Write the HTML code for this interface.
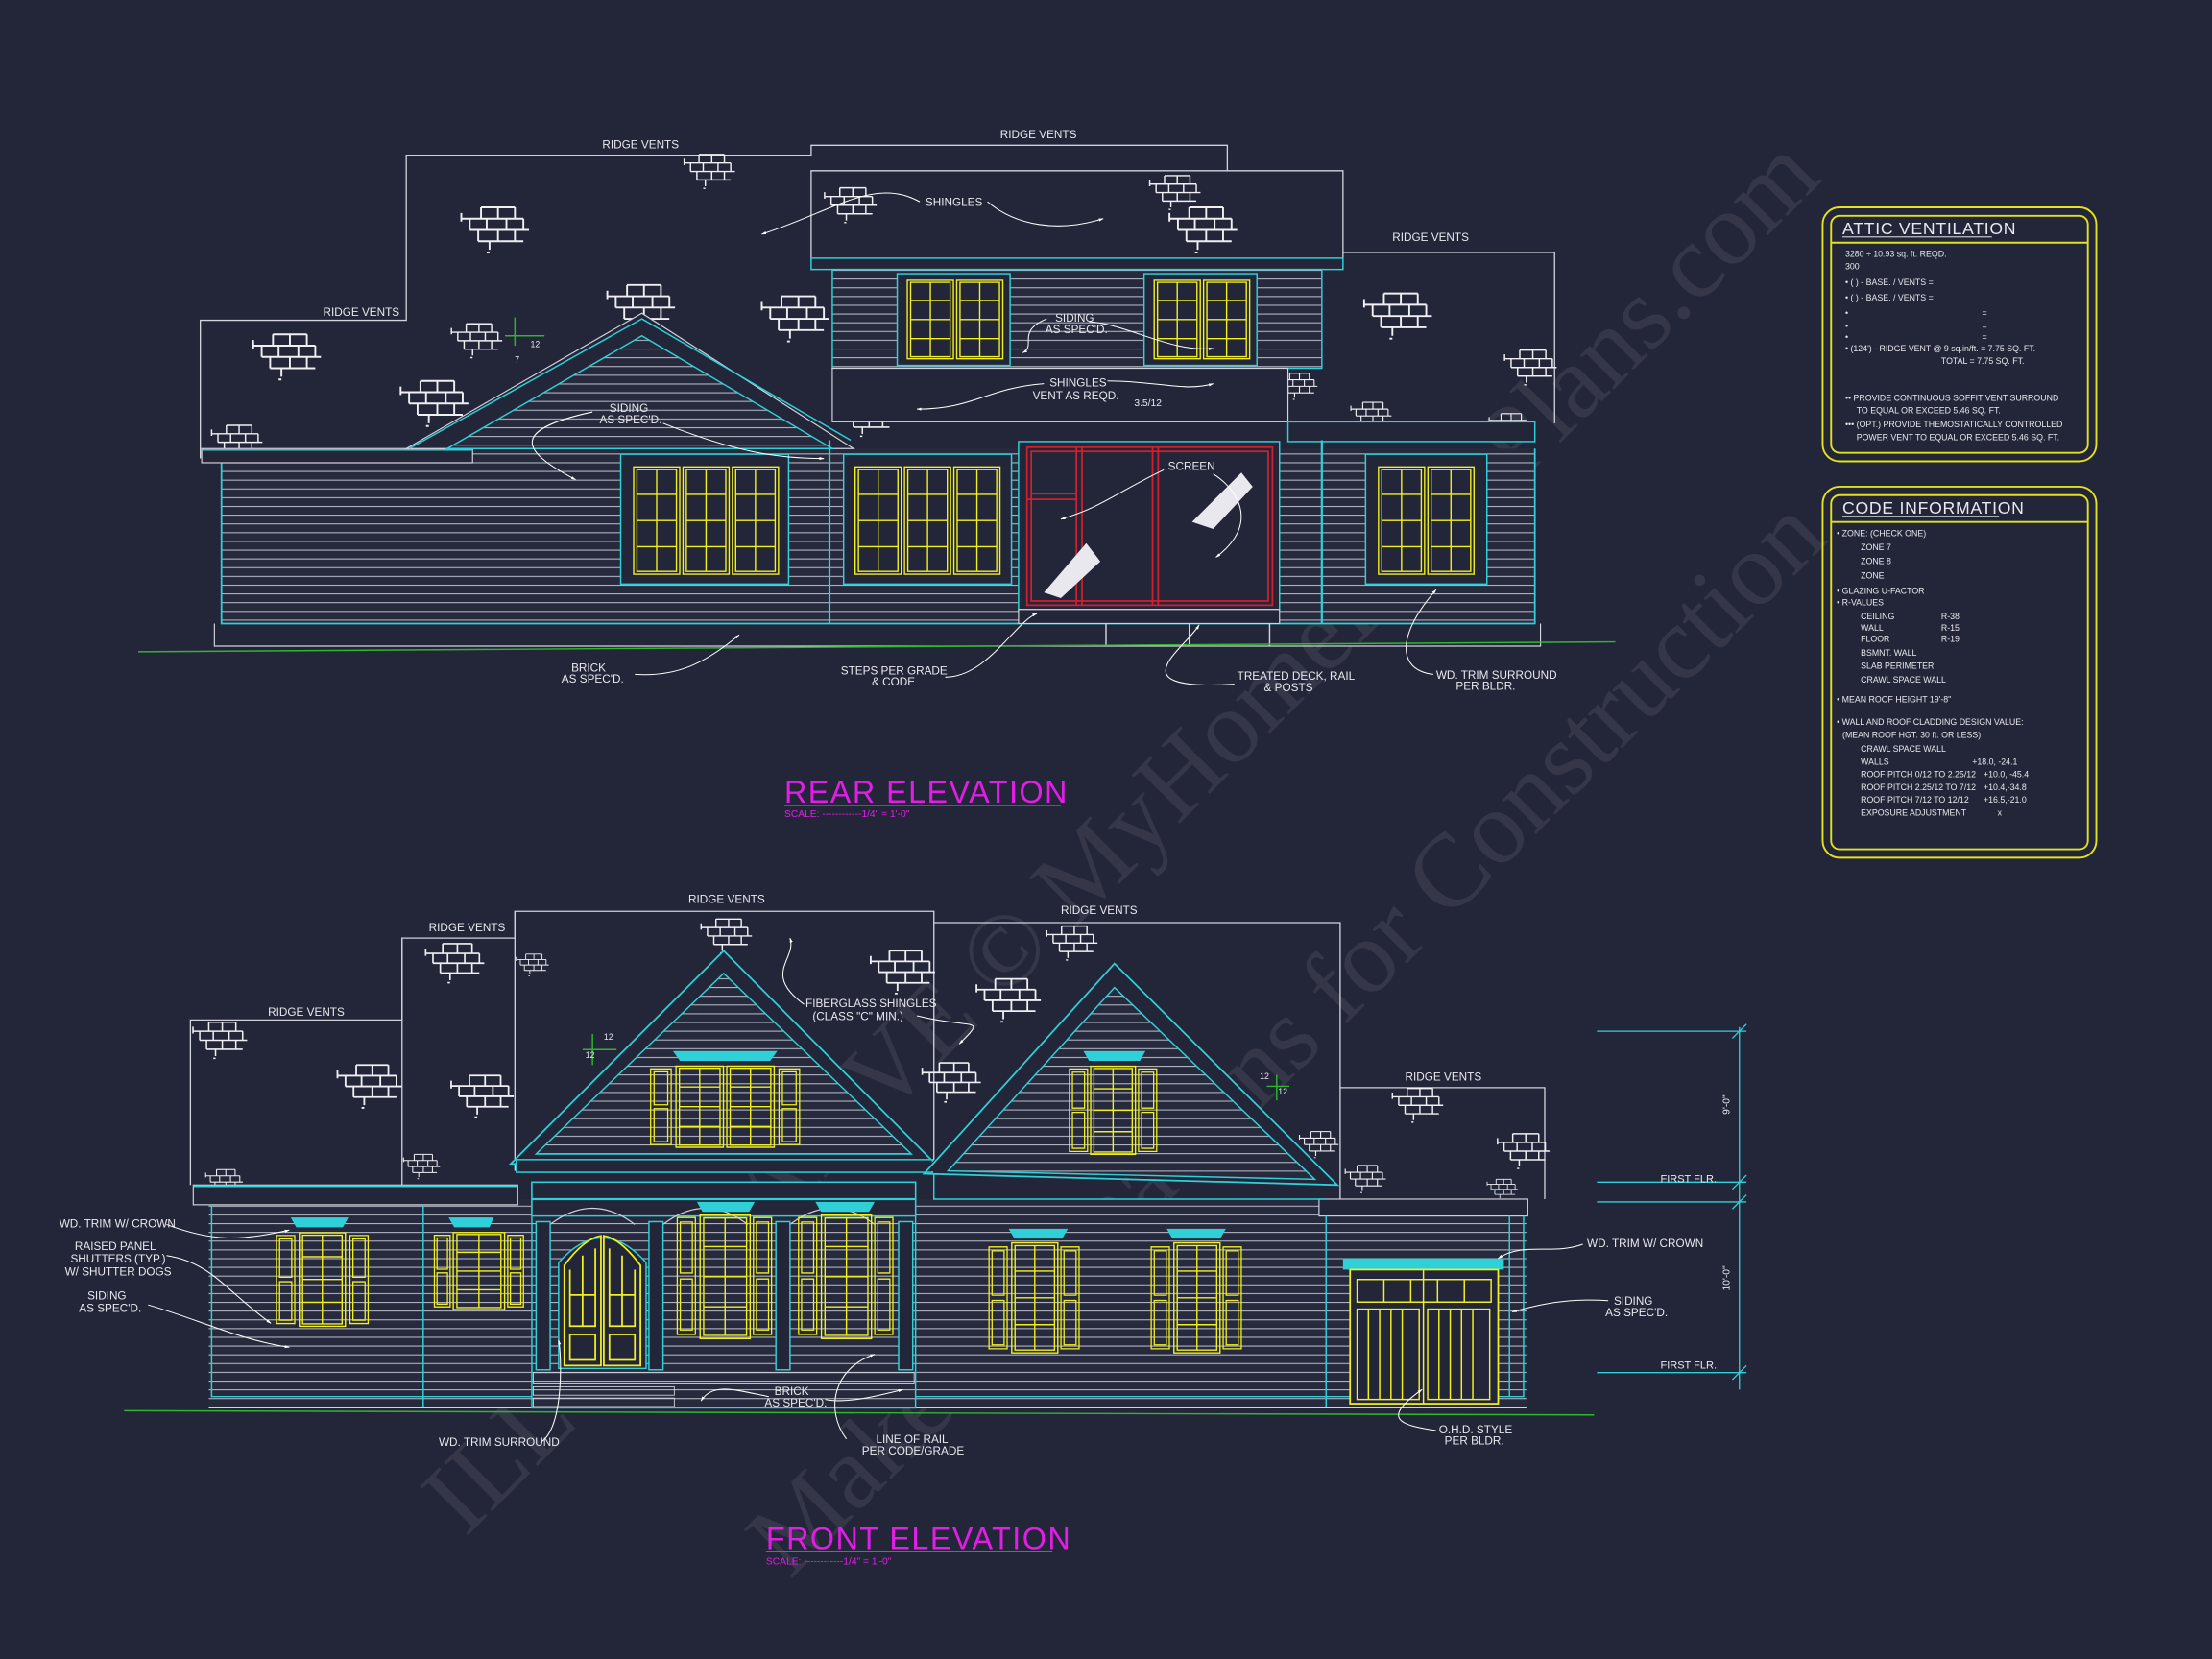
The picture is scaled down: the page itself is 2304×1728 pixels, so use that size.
<!DOCTYPE html>
<html><head><meta charset="utf-8"><style>
html,body{margin:0;padding:0;background:#232639;}
svg{display:block;}
text{font-family:"Liberation Sans",sans-serif;fill:#e8e8ee;}
</style></head><body>
<svg width="2304" height="1728" viewBox="0 0 1568 1176" xmlns="http://www.w3.org/2000/svg">
<defs>
<pattern id="sid" width="10" height="6.2" patternUnits="userSpaceOnUse"><rect width="10" height="6.2" fill="#262a3c"/><line x1="0" y1="5.6" x2="10" y2="5.6" stroke="#b9bcc9" stroke-width="0.7"/></pattern>
<symbol id="brick" viewBox="0 0 52 40" overflow="visible">
<g stroke="#f0f0f4" stroke-width="1.3" fill="none">
<path d="M16 2H40M2 10H46M8 18H50M14 26H46M20 34H22"/>
<path d="M16 2V10M28 2V10M40 2V10M2 6V12M8 10V18M20 10V18M34 10V18M46 10V18M14 18V26M28 18V26M40 18V26M22 26V32"/>
</g></symbol>
<symbol id="sash" viewBox="0 0 30 80" preserveAspectRatio="none">
<g fill="none" stroke="#f2f01e" stroke-width="1.4" vector-effect="non-scaling-stroke">
<rect x="1" y="1" width="28" height="78" vector-effect="non-scaling-stroke"/>
<rect x="3" y="3" width="24" height="74" vector-effect="non-scaling-stroke"/>
<path d="M15 3V77M3 21H27M3 40H27M3 59H27" vector-effect="non-scaling-stroke"/>
</g></symbol>
<symbol id="shut" viewBox="0 0 14 80" preserveAspectRatio="none">
<g fill="none" stroke="#f2f01e" stroke-width="1.3">
<rect x="1" y="1" width="12" height="78" vector-effect="non-scaling-stroke"/>
<rect x="3" y="4" width="8" height="34" vector-effect="non-scaling-stroke"/>
<rect x="3" y="42" width="8" height="34" vector-effect="non-scaling-stroke"/>
</g></symbol>
<marker id="ar" viewBox="0 0 10 10" refX="9" refY="5" markerWidth="5" markerHeight="5" orient="auto"><path d="M0 2L10 5L0 8z" fill="#fff"/></marker>
</defs>
<rect width="1568" height="1176" fill="#232639"/>

<!-- watermark -->
<g opacity="0.08">
<text x="0" y="0" transform="translate(330,1090) rotate(-45)" font-size="74" style="font-family:'Liberation Serif',serif;fill:#fff">ILLUSTRATIVE © MyHomeFloorPlans.com</text>
<text x="0" y="0" transform="translate(560,1120) rotate(-45)" font-size="74" style="font-family:'Liberation Serif',serif;fill:#fff">Make Estimations for Construction</text>
</g>

<!-- ================= REAR ELEVATION ================= -->
<g stroke="#d0d2dc" stroke-width="0.9" fill="none">
<path d="M142 325V227H288V110H575V103H870V121"/>
<path d="M575 185V121H952V185"/>
<path d="M952 179H1102V300"/>
</g>
<text x="427" y="105" font-size="8">RIDGE VENTS</text>
<text x="709" y="98" font-size="8">RIDGE VENTS</text>
<text x="229" y="224" font-size="8">RIDGE VENTS</text>
<text x="987" y="171" font-size="8">RIDGE VENTS</text>
<g>
<use href="#brick" x="478" y="108" width="50" height="30"/>
<use href="#brick" x="325" y="145" width="52" height="40"/>
<use href="#brick" x="583" y="130" width="40" height="34"/>
<use href="#brick" x="538" y="208" width="52" height="40"/>
<use href="#brick" x="827" y="145" width="52" height="40"/>
<use href="#brick" x="808" y="123" width="50" height="30"/>
<use href="#brick" x="427" y="200" width="55" height="40"/>
<use href="#brick" x="176" y="235" width="55" height="40"/>
<use href="#brick" x="313" y="228" width="50" height="30"/>
<use href="#brick" x="282" y="268" width="52" height="40"/>
<use href="#brick" x="965" y="206" width="52" height="40"/>
<use href="#brick" x="1065" y="245" width="40" height="34"/>
<use href="#brick" x="143" y="300" width="50" height="30"/>
<use href="#brick" x="592" y="282" width="45" height="32"/>
<use href="#brick" x="905" y="258" width="30" height="34"/>
<use href="#brick" x="952" y="284" width="40" height="24"/>
<use href="#brick" x="1050" y="292" width="40" height="24"/>
</g>
<!-- upper story -->
<rect x="575" y="183" width="377" height="8" fill="#232639" stroke="#2fd0d8" stroke-width="1"/>
<rect x="590" y="191" width="347" height="70" fill="url(#sid)" stroke="#2fd0d8" stroke-width="1"/>
<rect x="636" y="194" width="80" height="65" fill="#232639" stroke="#2fd0d8"/>
<use href="#sash" x="642" y="198" width="35" height="57"/><use href="#sash" x="677" y="198" width="35" height="57"/>
<rect x="811" y="194" width="80" height="65" fill="#232639" stroke="#2fd0d8"/>
<use href="#sash" x="817" y="198" width="35" height="57"/><use href="#sash" x="852" y="198" width="35" height="57"/>
<rect x="590" y="261" width="323" height="38" fill="#232639" stroke="#d0d2dc" stroke-width="0.8"/>
<!-- lower wall -->
<rect x="157" y="318" width="931" height="124" fill="url(#sid)"/>
<path d="M157 318V442H1088V318" stroke="#2fd0d8" fill="none" stroke-width="1.2"/>
<path d="M152 442V458H1092V442" stroke="#d0d2dc" fill="none" stroke-width="0.8"/>
<rect x="143" y="318" width="192" height="10" fill="#232639" stroke="#d0d2dc" stroke-width="0.8"/>
<line x1="143" y1="319" x2="335" y2="319" stroke="#2fd0d8"/>
<!-- gable -->
<polygon points="455,222 288,318 605,318" fill="#232639" stroke="#d0d2dc" stroke-width="0.8"/>
<polygon points="455,238 317,318 590,318" fill="url(#sid)" stroke="#2fd0d8" stroke-width="1"/>
<path d="M290 318L455 226L603 312" stroke="#2fd0d8" fill="none"/>
<path d="M365 225V245M358 238H386" stroke="#2fb52f"/><text x="376" y="246" font-size="6">12</text><text x="365" y="257" font-size="6">7</text>
<rect x="913" y="299" width="175" height="14" fill="#232639" stroke="#2fd0d8"/>
<line x1="588" y1="312" x2="588" y2="442" stroke="#2fd0d8" stroke-width="1.5"/>
<line x1="937" y1="312" x2="937" y2="442" stroke="#2fd0d8" stroke-width="1.5"/>
<!-- windows -->
<rect x="440" y="322" width="119" height="92" fill="#232639" stroke="#2fd0d8"/>
<use href="#sash" x="448" y="330" width="35" height="78"/><use href="#sash" x="483" y="330" width="35" height="78"/><use href="#sash" x="518" y="330" width="35" height="78"/>
<rect x="598" y="322" width="119" height="92" fill="#232639" stroke="#2fd0d8"/>
<use href="#sash" x="605" y="330" width="35" height="78"/><use href="#sash" x="640" y="330" width="35" height="78"/><use href="#sash" x="675" y="330" width="35" height="78"/>
<rect x="968" y="322" width="86" height="92" fill="#232639" stroke="#2fd0d8"/>
<use href="#sash" x="976" y="330" width="35" height="78"/><use href="#sash" x="1011" y="330" width="35" height="78"/>
<!-- screen porch -->
<rect x="722" y="313" width="185" height="119" fill="#232639" stroke="#2fd0d8"/>
<g stroke="#d02030" fill="none" stroke-width="1.2">
<rect x="728" y="317" width="174" height="112"/><rect x="731" y="320" width="168" height="106"/>
<path d="M763 317V429M767 317V429M817 317V429M821 317V429M728 354H763M731 350H763"/>
</g>
<path d="M845 370L880 335L888 345L860 375Z" fill="#e8e8ee"/>
<path d="M740 420L770 385L780 398L752 424Z" fill="#e8e8ee"/>
<rect x="722" y="432" width="185" height="10" fill="#232639" stroke="#d0d2dc" stroke-width="0.8"/>
<path d="M784 442V458M843 442V458M900 442V458" stroke="#d0d2dc"/>
<line x1="98" y1="462" x2="1145" y2="455" stroke="#2fb52f" stroke-width="1"/>
<!-- labels rear -->
<g font-size="8">
<text x="656" y="146">SHINGLES</text>
<text x="748" y="228">SIDING</text><text x="741" y="236">AS SPEC'D.</text>
<text x="744" y="274">SHINGLES</text><text x="732" y="283">VENT AS REQD.</text><text x="804" y="288" font-size="7">3.5/12</text>
<text x="432" y="292">SIDING</text><text x="425" y="300">AS SPEC'D.</text>
<text x="828" y="333">SCREEN</text>
<text x="405" y="476">BRICK</text><text x="398" y="484">AS SPEC'D.</text>
<text x="596" y="478">STEPS PER GRADE</text><text x="618" y="486">&amp; CODE</text>
<text x="877" y="482">TREATED DECK, RAIL</text><text x="896" y="490">&amp; POSTS</text>
<text x="1018" y="481">WD. TRIM SURROUND</text><text x="1032" y="489">PER BLDR.</text>
</g>
<g stroke="#fff" stroke-width="0.7" fill="none" marker-end="url(#ar)">
<path d="M652 143C620 125 590 150 540 166"/>
<path d="M700 143C720 160 750 165 782 155"/>
<path d="M772 228C800 230 830 250 860 247"/>
<path d="M742 226C720 235 735 245 725 250"/>
<path d="M785 270C820 270 840 278 860 272"/>
<path d="M740 272C700 275 690 290 650 290"/>
<path d="M860 336C875 345 895 370 862 395"/>
<path d="M825 333C790 350 780 360 752 368"/>
<path d="M420 292C360 305 370 320 408 340"/>
<path d="M470 300C520 320 550 325 584 325"/>
<path d="M450 478C480 480 500 470 524 450"/>
<path d="M670 480C700 480 720 440 735 435"/>
<path d="M875 485C790 490 840 460 850 443"/>
<path d="M1016 478C990 475 990 450 1018 418"/>
</g>
<text x="556" y="569" font-size="22" style="fill:#e21ee6;font-family:'Liberation Sans',sans-serif;letter-spacing:1px" font-weight="normal">REAR ELEVATION</text>
<line x1="556" y1="571" x2="752" y2="571" stroke="#e21ee6"/>
<text x="556" y="579" font-size="7" style="fill:#e21ee6">SCALE: ------------1/4" = 1'-0"</text>

<!-- ================= FRONT ELEVATION ================= -->
<g stroke="#d0d2dc" stroke-width="0.9" fill="none">
<path d="M135 840V723H285V665H365V646H662V830"/>
<path d="M285 665V850M365 646V830"/>
<path d="M662 654H950V850"/>
<path d="M950 771H1095V850"/>
</g>
<text x="488" y="640" font-size="8">RIDGE VENTS</text>
<text x="304" y="660" font-size="8">RIDGE VENTS</text>
<text x="752" y="648" font-size="8">RIDGE VENTS</text>
<text x="190" y="720" font-size="8">RIDGE VENTS</text>
<text x="996" y="766" font-size="8">RIDGE VENTS</text>
<g>
<use href="#brick" x="300" y="667" width="45" height="35"/>
<use href="#brick" x="365" y="670" width="25" height="30"/>
<use href="#brick" x="490" y="650" width="50" height="30"/>
<use href="#brick" x="615" y="672" width="50" height="38"/>
<use href="#brick" x="690" y="692" width="50" height="38"/>
<use href="#brick" x="735" y="655" width="50" height="30"/>
<use href="#brick" x="135" y="723" width="42" height="32"/>
<use href="#brick" x="237" y="753" width="50" height="38"/>
<use href="#brick" x="318" y="760" width="48" height="38"/>
<use href="#brick" x="285" y="813" width="28" height="30"/>
<use href="#brick" x="135" y="828" width="48" height="22"/>
<use href="#brick" x="652" y="750" width="45" height="38"/>
<use href="#brick" x="920" y="795" width="30" height="35"/>
<use href="#brick" x="980" y="770" width="50" height="30"/>
<use href="#brick" x="1060" y="800" width="40" height="35"/>
<use href="#brick" x="948" y="825" width="40" height="24"/>
<use href="#brick" x="1040" y="835" width="50" height="18"/>
</g>
<!-- main wall -->
<rect x="148" y="850" width="934" height="148" fill="url(#sid)"/>
<rect x="137" y="840" width="230" height="14" fill="#232639" stroke="#d0d2dc" stroke-width="0.8"/>
<line x1="137" y1="841" x2="367" y2="841" stroke="#2fd0d8"/>
<rect x="935" y="850" width="148" height="12" fill="#232639" stroke="#d0d2dc" stroke-width="0.8"/>
<path d="M150 854V990H1080V862" stroke="#2fd0d8" fill="none"/>
<path d="M300 854V998M940 862V998M1070 862V990" stroke="#2fd0d8"/>
<line x1="148" y1="998" x2="1082" y2="998" stroke="#d0d2dc" stroke-width="0.8"/>
<!-- center porch block -->
<rect x="377" y="838" width="272" height="160" fill="url(#sid)" stroke="#2fd0d8"/>
<rect x="377" y="838" width="272" height="24" fill="#232639" stroke="#2fd0d8"/>
<line x1="377" y1="850" x2="649" y2="850" stroke="#2fd0d8" stroke-width="1.5"/>
<!-- left gable -->
<polygon points="513,674 362,825 663,825" fill="#232639" stroke="#2fd0d8" stroke-width="1.2"/>
<polygon points="513,690 380,818 646,818" fill="url(#sid)" stroke="#2fd0d8"/>
<rect x="366" y="822" width="295" height="9" fill="#232639" stroke="#2fd0d8"/>
<path d="M420 733V755M413 744H437" stroke="#2fb52f"/><text x="428" y="737" font-size="6">12</text><text x="415" y="750" font-size="6">12</text>
<!-- right gable -->
<polygon points="790,683 655,830 948,840" fill="#232639" stroke="none"/>
<polygon points="790,683 655,832 948,840" fill="none" stroke="#2fd0d8" stroke-width="1.2"/>
<polygon points="790,700 672,830 932,836" fill="url(#sid)" stroke="#2fd0d8"/>
<path d="M662 832V850H940" stroke="#2fd0d8" fill="none"/>
<path d="M905 762V780M898 770H914" stroke="#2fb52f"/><text x="893" y="765" font-size="6">12</text><text x="906" y="776" font-size="6">12</text>
<!-- gable windows -->
<path d="M477 745H551L546 752H482Z" fill="#2fd0d8"/>
<use href="#shut" x="460" y="757" width="17" height="55"/><use href="#shut" x="551" y="757" width="17" height="55"/>
<use href="#sash" x="478" y="755" width="36" height="59"/><use href="#sash" x="514" y="755" width="36" height="59"/>
<path d="M768 745H812L808 752H772Z" fill="#2fd0d8"/>
<use href="#shut" x="757" y="757" width="15" height="60"/><use href="#shut" x="806" y="757" width="15" height="60"/>
<use href="#sash" x="772" y="755" width="34" height="64"/>
<!-- porch arches & columns -->
<g stroke="#d0d2dc" fill="none" stroke-width="0.8">
<path d="M390 868Q420 845 450 868M470 868Q500 845 530 868M560 868Q590 845 620 868"/>
</g>
<g fill="#232639" stroke="#2fd0d8">
<rect x="380" y="866" width="10" height="105"/><rect x="460" y="866" width="10" height="105"/><rect x="550" y="866" width="10" height="105"/><rect x="637" y="866" width="10" height="105"/>
</g>
<path d="M396 970V895Q427 860 458 895V970Z" fill="#232639" stroke="#2fd0d8"/>
<g fill="none" stroke="#f2f01e" stroke-width="1.2">
<path d="M400 968V897Q414 878 426 876V968Z"/><path d="M428 968V876Q440 878 454 897V968Z"/>
<path d="M404 900V940H422V885M432 885V940H450V900M404 946H422V964H404ZM432 946H450V964H432ZM413 890V940M441 890V940M404 918H422M432 918H450"/>
</g>
<path d="M494 852H535L531 859H498Z" fill="#2fd0d8"/>
<use href="#shut" x="479" y="862" width="15" height="85"/><use href="#shut" x="533" y="862" width="15" height="85"/>
<use href="#sash" x="495" y="860" width="38" height="90"/>
<path d="M578 852H620L616 859H582Z" fill="#2fd0d8"/>
<use href="#shut" x="565" y="862" width="15" height="85"/><use href="#shut" x="619" y="862" width="15" height="85"/>
<use href="#sash" x="581" y="860" width="38" height="90"/>
<!-- left wing windows -->
<path d="M206 863H247L243 870H210Z" fill="#2fd0d8"/>
<use href="#shut" x="195" y="875" width="15" height="64"/><use href="#shut" x="247" y="875" width="15" height="64"/>
<use href="#sash" x="211" y="873" width="35" height="68"/>
<path d="M318 863H350L347 870H322Z" fill="#2fd0d8"/>
<use href="#shut" x="307" y="875" width="13" height="52"/><use href="#shut" x="359" y="875" width="13" height="52"/>
<use href="#sash" x="320" y="873" width="39" height="56"/>
<!-- right wing windows -->
<path d="M715 871H757L753 878H719Z" fill="#2fd0d8"/>
<use href="#shut" x="700" y="883" width="15" height="74"/><use href="#shut" x="751" y="883" width="15" height="74"/>
<use href="#sash" x="716" y="880" width="35" height="80"/>
<path d="M827 871H869L865 878H831Z" fill="#2fd0d8"/>
<use href="#shut" x="815" y="883" width="15" height="74"/><use href="#shut" x="866" y="883" width="15" height="74"/>
<use href="#sash" x="831" y="880" width="35" height="80"/>
<!-- garage -->
<rect x="952" y="892" width="114" height="8" fill="#2fd0d8"/>
<rect x="957" y="900" width="105" height="95" fill="#232639" stroke="#f2f01e" stroke-width="1.2"/>
<g fill="none" stroke="#f2f01e" stroke-width="1">
<rect x="962" y="907" width="95" height="16"/>
<path d="M981 907V923M1000 907V923M1019 907V923M1038 907V923M1009 900V995"/>
<rect x="962" y="928" width="44" height="64"/><rect x="1012" y="928" width="44" height="64"/>
<path d="M970 928V992M978 928V992M986 928V992M994 928V992M1020 928V992M1028 928V992M1036 928V992M1044 928V992"/>
</g>
<!-- steps -->
<g stroke="#d0d2dc" stroke-width="0.6">
<rect x="378" y="973" width="270" height="8" fill="url(#sid)"/>
<rect x="378" y="983" width="100" height="6" fill="none"/><rect x="378" y="991" width="100" height="6" fill="none"/>
</g>
<line x1="88" y1="1000" x2="1130" y2="1003" stroke="#2fb52f"/>
<!-- dimension -->
<g stroke="#2fd0d8" fill="none" stroke-width="0.9">
<path d="M1132 731H1238M1132 838H1238M1132 852H1238M1132 973H1238M1233 728V985"/>
<path d="M1228 736L1238 726M1228 843L1238 833M1228 857L1238 847M1228 978L1238 968"/>
</g>
<text x="1226" y="790" font-size="7" transform="rotate(-90 1226 790)">9'-0"</text>
<text x="1226" y="915" font-size="7" transform="rotate(-90 1226 915)">10'-0"</text>
<text x="1177" y="838" font-size="7.5">FIRST FLR.</text>
<text x="1177" y="970" font-size="7.5">FIRST FLR.</text>
<!-- labels front -->
<g font-size="8">
<text x="42" y="870">WD. TRIM W/ CROWN</text>
<text x="53" y="886">RAISED PANEL</text><text x="50" y="895">SHUTTERS (TYP.)</text><text x="46" y="904">W/ SHUTTER DOGS</text>
<text x="62" y="921">SIDING</text><text x="56" y="930">AS SPEC'D.</text>
<text x="571" y="714">FIBERGLASS SHINGLES</text><text x="576" y="723">(CLASS "C" MIN.)</text>
<text x="549" y="989">BRICK</text><text x="542" y="997">AS SPEC'D.</text>
<text x="311" y="1025">WD. TRIM SURROUND</text>
<text x="621" y="1023">LINE OF RAIL</text><text x="611" y="1031">PER CODE/GRADE</text>
<text x="1125" y="884">WD. TRIM W/ CROWN</text>
<text x="1144" y="925">SIDING</text><text x="1138" y="933">AS SPEC'D.</text>
<text x="1020" y="1016">O.H.D. STYLE</text><text x="1024" y="1024">PER BLDR.</text>
</g>
<g stroke="#fff" stroke-width="0.7" fill="none" marker-end="url(#ar)">
<path d="M118 868C150 880 170 880 205 872"/>
<path d="M118 890C150 895 160 915 192 938"/>
<path d="M105 925C140 935 170 950 205 955"/>
<path d="M570 712C540 690 565 680 560 665"/>
<path d="M650 720C690 730 700 720 680 740"/>
<path d="M545 990C520 985 505 980 497 993"/>
<path d="M585 992C600 995 620 990 640 985"/>
<path d="M384 1022C400 1010 398 960 396 950"/>
<path d="M600 1020C585 1000 590 970 620 960"/>
<path d="M1122 882C1100 890 1080 880 1062 892"/>
<path d="M1140 922C1110 920 1090 925 1072 930"/>
<path d="M1018 1014C990 1010 980 1005 1008 985"/>
</g>
<text x="543" y="1098" font-size="22" style="fill:#e21ee6;letter-spacing:1px">FRONT ELEVATION</text>
<line x1="543" y1="1100" x2="746" y2="1100" stroke="#e21ee6"/>
<text x="543" y="1109" font-size="7" style="fill:#e21ee6">SCALE: ------------1/4" = 1'-0"</text>

<!-- ================= INFO BOXES ================= -->
<g fill="none" stroke="#e2e21e" stroke-width="1.3">
<rect x="1292" y="147" width="194" height="180" rx="12"/>
<rect x="1298" y="153" width="182" height="168" rx="6"/>
<line x1="1298" y1="172" x2="1480" y2="172"/>
<rect x="1292" y="345" width="194" height="263" rx="12"/>
<rect x="1298" y="351" width="182" height="251" rx="6"/>
<line x1="1298" y1="370" x2="1480" y2="370"/>
</g>
<text x="1306" y="166" font-size="12" style="letter-spacing:0.5px">ATTIC VENTILATION</text>
<line x1="1306" y1="168" x2="1412" y2="168" stroke="#fff" stroke-width="0.6"/>
<text x="1306" y="364" font-size="12" style="letter-spacing:0.5px">CODE INFORMATION</text>
<line x1="1306" y1="366" x2="1417" y2="366" stroke="#fff" stroke-width="0.6"/>
<g font-size="6">
<text x="1308" y="182">3280 ÷ 10.93 sq. ft. REQD.</text>
<text x="1308" y="191">300</text>
<text x="1308" y="202">• (    ) -          BASE.    /    VENTS   =</text>
<text x="1308" y="213">• (    ) -          BASE.    /    VENTS   =</text>
<text x="1308" y="224">•</text><text x="1405" y="224">=</text>
<text x="1308" y="233">•</text><text x="1405" y="233">=</text>
<text x="1308" y="241">•</text><text x="1405" y="241">=</text>
<text x="1308" y="249">• (124') - RIDGE VENT @ 9 sq.in/ft. = 7.75 SQ. FT.</text>
<text x="1376" y="258">TOTAL           = 7.75 SQ. FT.</text>
<text x="1308" y="284">•• PROVIDE CONTINUOUS SOFFIT VENT SURROUND</text>
<text x="1316" y="293">TO EQUAL OR EXCEED  5.46 SQ. FT.</text>
<text x="1308" y="303">••• (OPT.) PROVIDE THEMOSTATICALLY CONTROLLED</text>
<text x="1316" y="312">POWER VENT TO EQUAL OR EXCEED  5.46 SQ. FT.</text>

<text x="1302" y="380">• ZONE: (CHECK ONE)</text>
<text x="1319" y="390">ZONE 7</text><text x="1319" y="400">ZONE 8</text><text x="1319" y="410">ZONE</text>
<text x="1302" y="421">• GLAZING U-FACTOR</text>
<text x="1302" y="429">• R-VALUES</text>
<text x="1319" y="439">CEILING</text><text x="1376" y="439">R-38</text>
<text x="1319" y="447">WALL</text><text x="1376" y="447">R-15</text>
<text x="1319" y="455">FLOOR</text><text x="1376" y="455">R-19</text>
<text x="1319" y="465">BSMNT. WALL</text><text x="1319" y="474">SLAB PERIMETER</text><text x="1319" y="484">CRAWL SPACE WALL</text>
<text x="1302" y="498">• MEAN ROOF HEIGHT    19'-8"</text>
<text x="1302" y="514">• WALL AND ROOF CLADDING DESIGN VALUE:</text>
<text x="1306" y="523">(MEAN ROOF HGT. 30 ft. OR LESS)</text>
<text x="1319" y="533">CRAWL SPACE WALL</text>
<text x="1319" y="542">WALLS</text><text x="1398" y="542">+18.0, -24.1</text>
<text x="1319" y="551">ROOF PITCH 0/12 TO 2.25/12</text><text x="1406" y="551">+10.0, -45.4</text>
<text x="1319" y="560">ROOF PITCH 2.25/12 TO 7/12</text><text x="1406" y="560">+10.4,-34.8</text>
<text x="1319" y="569">ROOF PITCH 7/12 TO 12/12</text><text x="1406" y="569">+16.5,-21.0</text>
<text x="1319" y="578">EXPOSURE ADJUSTMENT</text><text x="1416" y="578">x</text>
</g>
</svg>
</body></html>
